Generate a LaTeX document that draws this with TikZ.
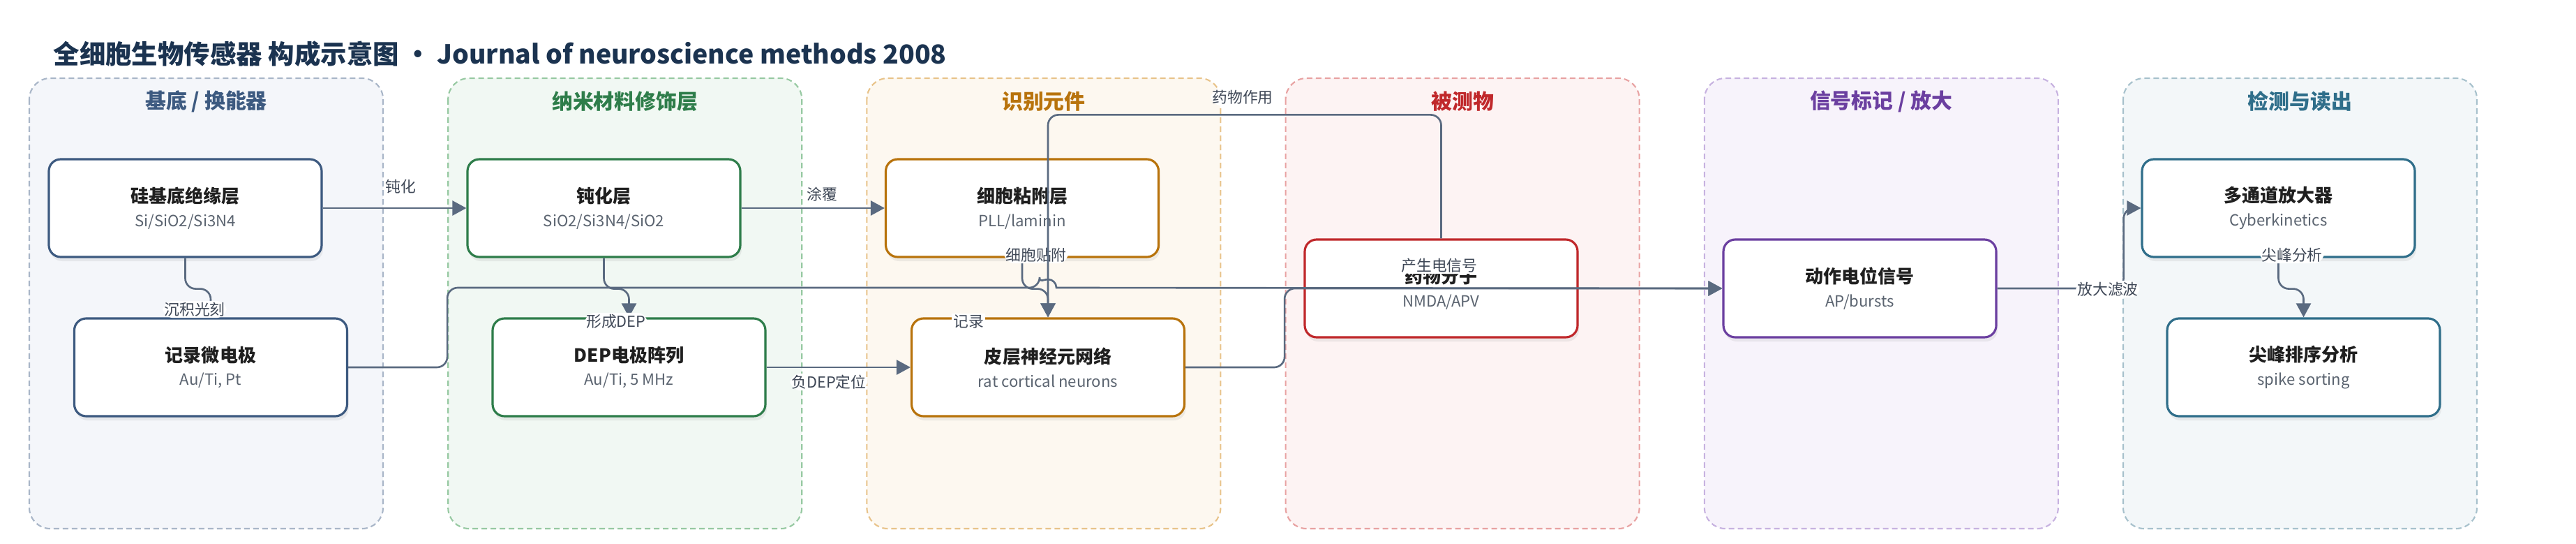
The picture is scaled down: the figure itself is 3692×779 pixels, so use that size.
\documentclass[tikz,border=0pt]{standalone}
\usepackage{fontspec}
\setmainfont{Noto Sans CJK SC}
\usetikzlibrary{arrows.meta,shadows}

\definecolor{c1}{HTML}{3D5A80}\definecolor{c1fill}{HTML}{F4F6FA}\definecolor{c1line}{HTML}{A9B6C8}
\definecolor{c2}{HTML}{2E7D4A}\definecolor{c2fill}{HTML}{F1F8F3}\definecolor{c2line}{HTML}{97C9A2}
\definecolor{c3}{HTML}{B8730C}\definecolor{c3fill}{HTML}{FDF8F0}\definecolor{c3line}{HTML}{E8C38A}
\definecolor{c4}{HTML}{C0282B}\definecolor{c4fill}{HTML}{FDF3F3}\definecolor{c4line}{HTML}{E8A2A2}
\definecolor{c5}{HTML}{6B3FA0}\definecolor{c5fill}{HTML}{F7F3FB}\definecolor{c5line}{HTML}{C7B2E0}
\definecolor{c6}{HTML}{2F6E8A}\definecolor{c6fill}{HTML}{F3F7F9}\definecolor{c6line}{HTML}{A7C1CC}
\definecolor{edgegray}{HTML}{5A6A80}
\definecolor{lblgray}{HTML}{3E4756}
\definecolor{subgray}{HTML}{5B6470}
\definecolor{titleblue}{HTML}{1B3350}

\begin{document}
\begin{tikzpicture}
  [x=0.1mm,y=0.1mm,
   grp/.style={draw=#1line,fill=#1fill,dash pattern=on 0.8mm off 0.5mm,line width=0.6pt,rounded corners=3mm},
   grptitle/.style={font=\fontsize{8.5}{10}\selectfont\bfseries,text=#1},
   box/.style={draw=#1,fill=white,line width=0.9pt,rounded corners=1.7mm,
     minimum width=3.91cm,minimum height=1.4cm,inner sep=0pt,align=center,
     text=black!88,font=\fontsize{7.4}{9.6}\selectfont,
     drop shadow={shadow xshift=0.2mm,shadow yshift=-0.6mm,opacity=0.12}},
   edge/.style={draw=edgegray,line width=0.75pt,-{Triangle[length=2mm,width=2.1mm]},rounded corners=1.5mm},
   lbl/.style={fill=white,text=lblgray,font=\fontsize{6.2}{7}\selectfont,inner sep=0.6pt}]
  \useasboundingbox (0,0) rectangle (3692,-779);

  \node[anchor=west,inner sep=0pt,text=titleblue,font=\fontsize{10.65}{12}\selectfont\bfseries]
    (title) at (76,-77) {全细胞生物传感器 构成示意图 · Journal of neuroscience methods 2008};

  % columns
  \foreach \i/\c/\t in {0/c1/{基底 / 换能器},1/c2/纳米材料修饰层,2/c3/识别元件,
                        3/c4/被测物,4/c5/{信号标记 / 放大},5/c6/检测与读出} {
    \draw[grp=\c] (42+600.2*\i,-112) rectangle +(507,-645);
    \node[grptitle=\c] (g\i) at (295.5+600.2*\i,-145) {\t};
  }

  \node[box=c1] (1) at (265.5,-298) {\textbf{硅基底绝缘层}\\{\color{subgray}\fontsize{6.3}{7.5}\selectfont Si/SiO2/Si3N4}};
  \node[box=c1] (2) at (302,-526) {\textbf{记录微电极}\\{\color{subgray}\fontsize{6.3}{7.5}\selectfont Au/Ti, Pt}};
  \node[box=c2] (3) at (865.5,-298) {\textbf{钝化层}\\{\color{subgray}\fontsize{6.3}{7.5}\selectfont SiO2/Si3N4/SiO2}};
  \node[box=c2] (4) at (901.5,-526) {\textbf{DEP电极阵列}\\{\color{subgray}\fontsize{6.3}{7.5}\selectfont Au/Ti, 5 MHz}};
  \node[box=c3] (5) at (1465,-298) {\textbf{细胞粘附层}\\{\color{subgray}\fontsize{6.3}{7.5}\selectfont PLL/laminin}};
  \node[box=c3] (6) at (1502,-526) {\textbf{皮层神经元网络}\\{\color{subgray}\fontsize{6.3}{7.5}\selectfont rat cortical neurons}};
  \node[box=c4] (7) at (2065.5,-413) {\textbf{药物分子}\\{\color{subgray}\fontsize{6.3}{7.5}\selectfont NMDA/APV}};
  \node[box=c5] (8) at (2665.5,-413) {\textbf{动作电位信号}\\{\color{subgray}\fontsize{6.3}{7.5}\selectfont AP/bursts}};
  \node[box=c6] (9) at (3265.5,-298) {\textbf{多通道放大器}\\{\color{subgray}\fontsize{6.3}{7.5}\selectfont Cyberkinetics}};
  \node[box=c6] (10) at (3301.5,-526) {\textbf{尖峰排序分析}\\{\color{subgray}\fontsize{6.3}{7.5}\selectfont spike sorting}};

  \foreach \from/\to/\lx/\ly/\txt in {1/3/574/267/钝化,3/5/1178/278/涂覆,4/6/1188/547/负DEP定位}
    \draw[edge] (\from.east) -- (\to.west) node[lbl] (l\from-\to) at (\lx,-\ly) {\txt};

  \foreach \from/\to/\lx/\ly/\txt in {1/2/279/443/沉积光刻,3/4/883/460/形成DEP,
                                      5/6/1485/365/细胞贴附,9/10/3285/365/尖峰分析}
    \draw[edge] (\from.south) -- ++(0,-44) -| (\to.north) node[lbl] (l\from-\to) at (\lx,-\ly) {\txt};

  \draw[edge] (7.north) -- ++(0,177) -| (6.north) node[lbl] (l7-6) at (1781,-139) {药物作用};
  \draw[edge] (2.east) -- ++(142,0) |- (1490,-412) [sharp corners]
    arc[start angle=180,end angle=0,radius=1.2mm] -- (8.west) node[lbl] (l2-8) at (1388,-461) {记录};
  \draw[edge] (6.east) -- ++(142,0) |- (8.west) node[lbl] (l6-8) at (2063,-380) {产生电信号};
  \draw[edge] (8.east) -- ++(181,0) |- (9.west) node[lbl] (l8-9) at (3021,-414) {放大滤波};

\end{tikzpicture}
\end{document}
